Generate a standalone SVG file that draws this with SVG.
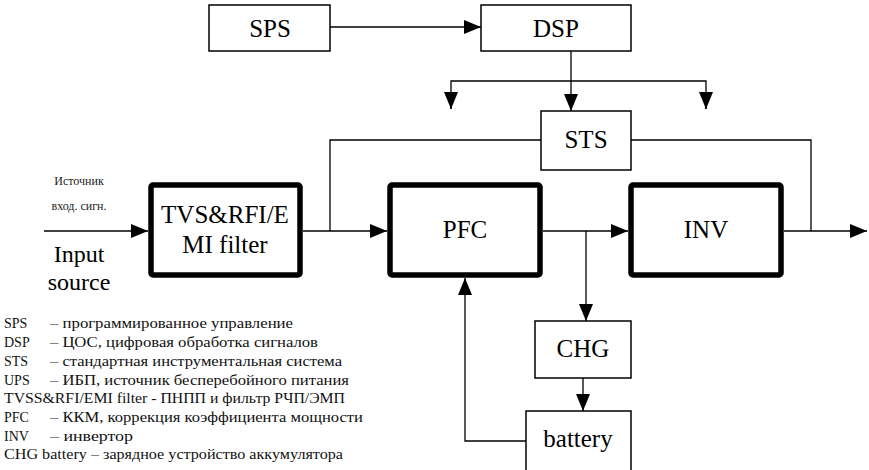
<svg xmlns="http://www.w3.org/2000/svg" width="869" height="470" viewBox="0 0 869 470">
<style>
.box{fill:#fff;stroke:#000;stroke-width:1.5}
.thick{fill:#fff;stroke:#000;stroke-width:5.5;stroke-linejoin:round}
.ln{fill:none;stroke:#000;stroke-width:1.3}
text{font-family:'Liberation Serif','Times New Roman',serif}
.lbl{font-size:25px;text-anchor:middle;fill:#000}
.sm{font-size:12px;text-anchor:middle;fill:#222}
.leg{font-size:14px;fill:#111}
</style>
<defs>
<marker id="arr" markerWidth="17" markerHeight="14" refX="17" refY="7" orient="auto" markerUnits="userSpaceOnUse">
<path d="M0,0 L17,7 L0,14 Z" fill="#000"/>
</marker>
</defs>
<rect width="869" height="470" fill="#fff"/>
<g id="connectors">
<path class="ln" d="M330,27 H481" marker-end="url(#arr)"/>
<path class="ln" d="M571,51 V111" marker-end="url(#arr)"/>
<path class="ln" d="M451,109 V81 H706 V109" />
<path class="ln" d="M451,92 V109" marker-end="url(#arr)"/>
<path class="ln" d="M706,92 V109" marker-end="url(#arr)"/>
<path class="ln" d="M44,231 H148" marker-end="url(#arr)"/>
<path class="ln" d="M303,231 H387" marker-end="url(#arr)"/>
<path class="ln" d="M541,140 H330 V231"/>
<path class="ln" d="M543,231 H628" marker-end="url(#arr)"/>
<path class="ln" d="M586,231 V321" marker-end="url(#arr)"/>
<path class="ln" d="M784,231 H867" marker-end="url(#arr)"/>
<path class="ln" d="M631,140 H811 V231"/>
<path class="ln" d="M583,378 V411" marker-end="url(#arr)"/>
<path class="ln" d="M526,441 H465 V278" marker-end="url(#arr)"/>
</g>
<g id="sps"><rect class="box" x="209" y="5" width="121" height="46"/><text class="lbl" x="270" y="37">SPS</text></g>
<g id="dsp"><rect class="box" x="481" y="5" width="150" height="46"/><text class="lbl" x="556" y="37">DSP</text></g>
<g id="sts"><rect class="box" x="541" y="111" width="90" height="59"/><text class="lbl" x="586" y="148">STS</text></g>
<g id="tvs"><rect class="thick" x="151" y="185" width="149" height="90" rx="2"/><text class="lbl" x="225" y="223">TVS&amp;RFI/E</text><text class="lbl" x="225" y="253">MI filter</text></g>
<g id="pfc"><rect class="thick" x="390" y="185" width="150" height="90" rx="2"/><text class="lbl" x="465" y="238">PFC</text></g>
<g id="inv"><rect class="thick" x="631" y="185" width="150" height="90" rx="2"/><text class="lbl" x="706" y="238">INV</text></g>
<g id="chg"><rect class="box" x="535" y="321" width="96" height="57"/><text class="lbl" x="583" y="357">CHG</text></g>
<g id="battery"><rect class="box" x="526" y="411" width="105" height="70"/><text class="lbl" x="578" y="447">battery</text></g>
<g id="input">
<text class="sm" x="79" y="185">Источник</text>
<text class="sm" x="79" y="210">вход. сигн.</text>
<text class="lbl" x="79" y="262" style="font-size:24px">Input</text>
<text class="lbl" x="79" y="290" style="font-size:24px">source</text>
</g>
<g id="legend">
<text class="leg" x="4" y="328">SPS</text><text class="leg" x="50" y="328" textLength="243" lengthAdjust="spacingAndGlyphs">– программированное управление</text>
<text class="leg" x="4" y="347">DSP</text><text class="leg" x="50" y="347" textLength="268" lengthAdjust="spacingAndGlyphs">– ЦОС, цифровая обработка сигналов</text>
<text class="leg" x="4" y="366">STS</text><text class="leg" x="50" y="366" textLength="292" lengthAdjust="spacingAndGlyphs">– стандартная инструментальная система</text>
<text class="leg" x="4" y="385">UPS</text><text class="leg" x="50" y="385" textLength="299" lengthAdjust="spacingAndGlyphs">– ИБП, источник бесперебойного питания</text>
<text class="leg" x="4" y="403" textLength="341" lengthAdjust="spacingAndGlyphs">TVSS&amp;RFI/EMI filter - ПНПП и фильтр РЧП/ЭМП</text>
<text class="leg" x="4" y="422">PFC</text><text class="leg" x="50" y="422" textLength="313" lengthAdjust="spacingAndGlyphs">– ККМ, коррекция коэффициента мощности</text>
<text class="leg" x="4" y="441">INV</text><text class="leg" x="50" y="441" textLength="83" lengthAdjust="spacingAndGlyphs">– инвертор</text>
<text class="leg" x="4" y="459" textLength="339" lengthAdjust="spacingAndGlyphs">CHG battery – зарядное устройство аккумулятора</text>
</g>
</svg>
